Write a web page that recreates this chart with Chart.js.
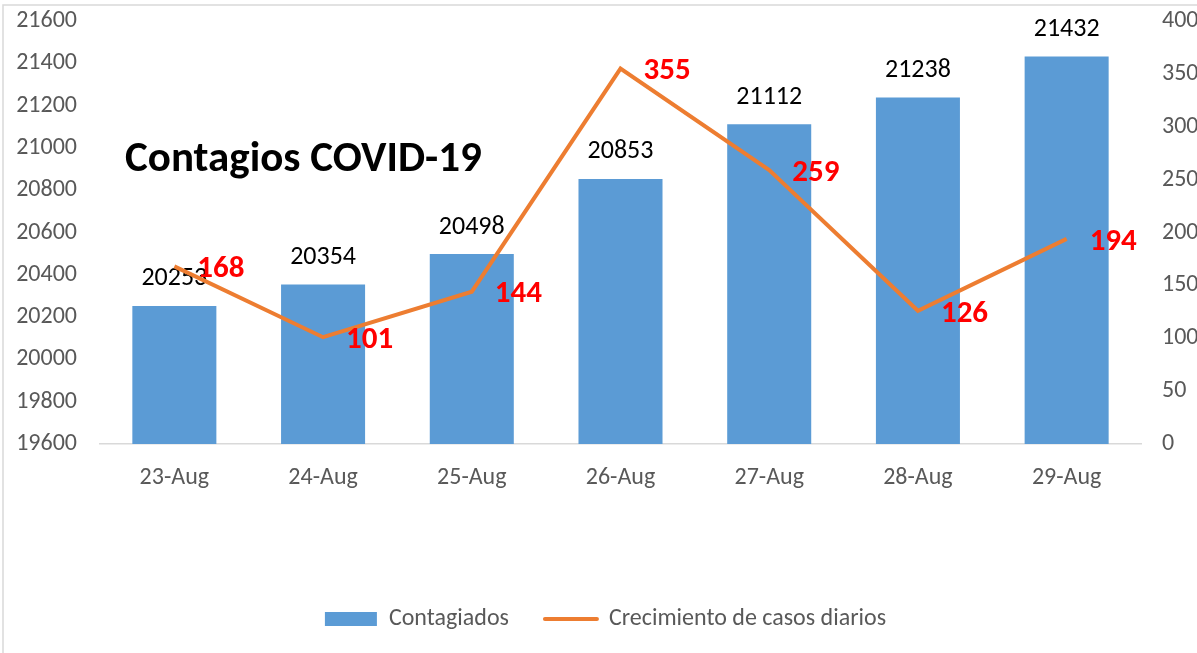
<!DOCTYPE html>
<html>
<head>
<meta charset="utf-8">
<script src="https://cdn.jsdelivr.net/npm/chart.js@4.4.1/dist/chart.umd.min.js"></script>
<style>
  html, body { margin: 0; padding: 0; background: #fff; }
  #wrap { position: relative; width: 1197px; height: 653px; }
</style>
</head>
<body>
<div id="wrap"><canvas id="c" width="1197" height="653"></canvas></div>
<script>
const categories = ['23-Aug', '24-Aug', '25-Aug', '26-Aug', '27-Aug', '28-Aug', '29-Aug'];
const contagiados = [20253, 20354, 20498, 20853, 21112, 21238, 21432];
const crecimiento = [168, 101, 144, 355, 259, 126, 194];
const leftAxis = { min: 19600, max: 21600, step: 200 };
const rightAxis = { min: 0, max: 400, step: 50 };
const titleText = 'Contagios COVID-19';
const seriesNames = ['Contagiados', 'Crecimiento de casos diarios'];

const FONT = 'Carlito, Lato, "Open Sans", sans-serif';
const TICK = 24;

const framePlugin = {
  id: 'frame',
  beforeDraw(chart) {
    const ctx = chart.ctx;
    ctx.save();
    ctx.fillStyle = '#fff';
    ctx.fillRect(0, 0, chart.width, chart.height);
    ctx.strokeStyle = '#d9d9d9';
    ctx.lineWidth = 1.5;
    ctx.strokeRect(3, 5, 1400, 900);
    ctx.restore();
  }
};

const labelPlugin = {
  id: 'labels',
  afterDatasetDraw(chart, args) {
    if (args.index !== 0) return;
    const ctx = chart.ctx;
    ctx.save();
    const bars = chart.getDatasetMeta(0).data;
    ctx.fillStyle = '#000';
    ctx.font = '26px ' + FONT;
    ctx.textAlign = 'center';
    ctx.textBaseline = 'middle';
    bars.forEach((b, i) => ctx.fillText(String(contagiados[i]), b.x, b.y - 27));
    ctx.restore();
  },
  afterDatasetsDraw(chart) {
    const ctx = chart.ctx;
    ctx.save();
    ctx.textBaseline = 'middle';
    const pts = chart.getDatasetMeta(1).data;
    ctx.fillStyle = '#ff0000';
    ctx.font = 'bold 31px ' + FONT;
    ctx.textAlign = 'left';
    pts.forEach((p, i) => ctx.fillText(String(crecimiento[i]), p.x + 23, p.y + 3));
    // title
    ctx.fillStyle = '#000';
    ctx.font = 'bold 43px ' + FONT;
    ctx.textAlign = 'left';
    ctx.fillText(titleText, 125, 160);
    ctx.restore();
  }
};

const plainTick = v => String(v);
const noPad = s => { s.paddingTop = 0; s.paddingBottom = 0; };

new Chart(document.getElementById('c'), {
  data: {
    labels: categories,
    datasets: [
      {
        type: 'bar',
        label: seriesNames[0],
        data: contagiados,
        backgroundColor: '#5b9bd5',
        borderWidth: 0,
        barPercentage: 0.565,
        categoryPercentage: 1,
        yAxisID: 'y',
        order: 2
      },
      {
        type: 'line',
        label: seriesNames[1],
        data: crecimiento,
        borderColor: '#ed7d31',
        backgroundColor: '#ed7d31',
        borderWidth: 4,
        pointRadius: 0,
        tension: 0,
        yAxisID: 'y1',
        order: 1
      }
    ]
  },
  plugins: [framePlugin, labelPlugin],
  options: {
    responsive: false,
    animation: false,
    layout: { padding: { top: 21, left: 14, right: 0, bottom: 12 } },
    plugins: {
      tooltip: { enabled: false },
      legend: {
        position: 'bottom',
        labels: {
          usePointStyle: true,
          pointStyleWidth: 52,
          boxHeight: 14,
          padding: 36,
          color: '#595959',
          font: { size: TICK, family: FONT },
          generateLabels(chart) {
            const items = Chart.defaults.plugins.legend.labels.generateLabels(chart);
            items.sort((a, b) => a.datasetIndex - b.datasetIndex);
            items.forEach(it => {
              if (it.datasetIndex === 0) {
                it.pointStyle = 'rect';
                it.lineWidth = 0;
                it.fillStyle = '#5b9bd5';
              } else {
                it.pointStyle = 'line';
                it.lineWidth = 4;
                it.strokeStyle = '#ed7d31';
                it.lineCap = 'round';
              }
            });
            return items;
          }
        }
      }
    },
    scales: {
      x: {
        grid: { display: false, drawTicks: false },
        border: { display: true, color: '#d9d9d9', width: 1.5 },
        ticks: { color: '#595959', font: { size: TICK, family: FONT }, padding: 20, maxRotation: 0 },
        afterFit(s) { s.height = 127; }
      },
      y: {
        position: 'left',
        min: leftAxis.min,
        max: leftAxis.max,
        grid: { display: false, drawTicks: false },
        border: { display: false },
        ticks: { stepSize: leftAxis.step, callback: plainTick, color: '#595959', font: { size: TICK, family: FONT }, padding: 23 },
        afterFit(s) { s.width = 86; noPad(s); }
      },
      y1: {
        position: 'right',
        min: rightAxis.min,
        max: rightAxis.max,
        grid: { display: false, drawTicks: false },
        border: { display: false },
        ticks: { stepSize: rightAxis.step, callback: plainTick, color: '#595959', font: { size: TICK, family: FONT }, padding: 21 },
        afterFit(s) { s.width = 56; noPad(s); }
      }
    }
  }
});
</script>
</body>
</html>
